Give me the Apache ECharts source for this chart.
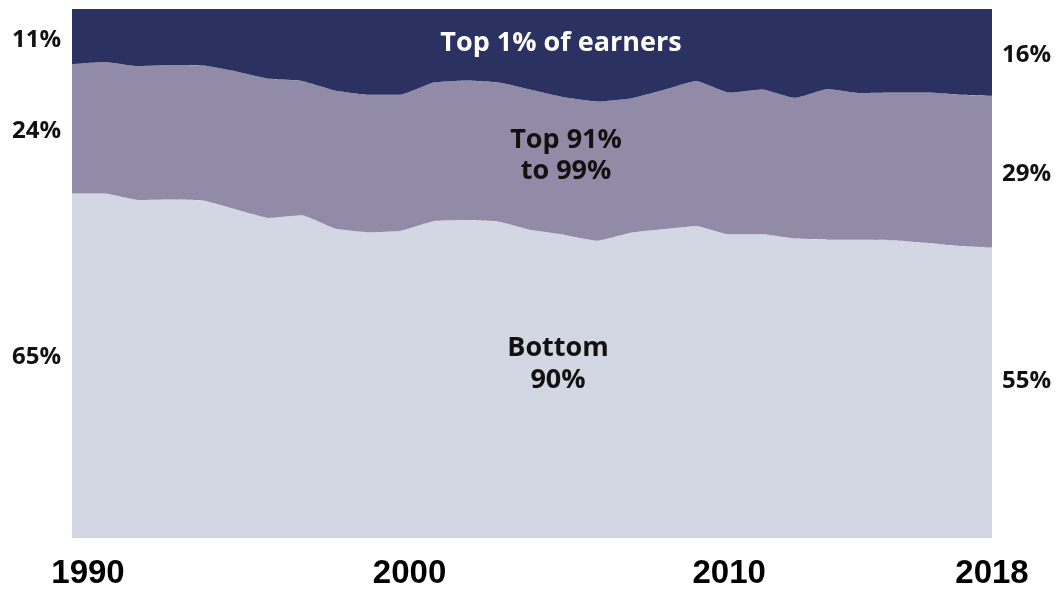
<!DOCTYPE html>
<html>
<head>
<meta charset="utf-8">
<script src="https://cdn.jsdelivr.net/npm/echarts@6/dist/echarts.min.js"></script>
<style>
html,body{margin:0;padding:0;background:#fff;}
#chart{width:1062px;height:590px;}
</style>
</head>
<body>
<div id="chart"></div>
<script>
// Years (category axis)
const years = ["1990","1991","1992","1993","1994","1995","1996","1997","1998","1999","2000","2001","2002","2003","2004","2005","2006","2007","2008","2009","2010","2011","2012","2013","2014","2015","2016","2017","2018"];
// Share of earnings (%)
const bottom90 = [65.1,65.1,63.9,64.0,63.8,62.1,60.5,61.0,58.5,57.8,58.1,59.9,60.1,59.8,58.2,57.3,56.2,57.7,58.4,59.0,57.4,57.4,56.6,56.4,56.4,56.3,55.8,55.2,54.9];
const top1 = [10.4,10.0,10.8,10.6,10.7,11.8,13.2,13.6,15.4,16.2,16.2,13.9,13.5,13.9,15.3,16.7,17.5,16.9,15.3,13.6,15.8,15.2,16.8,15.1,15.9,15.8,15.8,16.2,16.4];
const top91to99 = bottom90.map((b, i) => +(100 - b - top1[i]).toFixed(1));
const shownYears = ["1990","2000","2010","2018"];
const leftLabels = ["11%","24%","65%"];
const rightLabels = ["16%","29%","55%"];
const seriesNames = ["Bottom\n90%","Top 91%\nto 99%","Top 1% of earners"];

const chart = echarts.init(document.getElementById('chart'), null, {renderer:'canvas'});
const FONT = '"Open Sans", "Noto Sans", sans-serif';
const AXFONT = '"Liberation Sans", Arial, sans-serif';

function areaSeries(name, data, color) {
  return {
    name: name, type: 'line', stack: 'total', data: data,
    symbol: 'none', smooth: 0.12, z: 1,
    lineStyle: {width: 0},
    areaStyle: {color: color, opacity: 1},
    emphasis: {disabled: true}
  };
}

function sideText(x, y, text) {
  return {
    type: 'text', x: x, y: y, z: 100,
    style: {text: text, fill: '#111', font: 'bold 24px ' + FONT, align: 'left', verticalAlign: 'middle'}
  };
}

chart.setOption({
  animation: false,
  backgroundColor: '#fff',
  grid: {left: 72, right: 70, top: 9, bottom: 50, containLabel: false},
  xAxis: {
    type: 'category', data: years, boundaryGap: false,
    axisLine: {show: false}, axisTick: {show: false}, splitLine: {show: false},
    axisLabel: {
      interval: (i, v) => shownYears.includes(v),
      margin: 19,
      color: '#000',
      fontFamily: AXFONT, fontWeight: 'bold', fontSize: 33,
      formatter: (v) => v === '1990' ? '{a|' + v + '}' : (v === '2000' ? '{b|' + v + '}' : (v === '2010' ? '{c|' + v + '}' : v)),
      rich: {
        a: {padding: [0,0,0,32], color:'#000', fontFamily: AXFONT, fontWeight:'bold', fontSize:33},
        b: {padding: [0,0,0,18], color:'#000', fontFamily: AXFONT, fontWeight:'bold', fontSize:33},
        c: {padding: [0,0,8,0], color:'#000', fontFamily: AXFONT, fontWeight:'bold', fontSize:33}
      }
    }
  },
  yAxis: {type: 'value', min: 0, max: 100, show: false},
  series: [
    areaSeries(seriesNames[0], bottom90, '#d3d6e3'),
    areaSeries(seriesNames[1], top91to99, '#918ba8'),
    areaSeries(seriesNames[2], top1, '#2b3161')
  ],
  graphic: {
    elements: [
      sideText(12, 40, leftLabels[0]),
      sideText(12, 131, leftLabels[1]),
      sideText(12, 357, leftLabels[2]),
      sideText(1002, 55, rightLabels[0]),
      sideText(1002, 174, rightLabels[1]),
      sideText(1002, 381, rightLabels[2]),
      {type:'text', x: 561, y: 43, z: 100, style:{text: seriesNames[2], fill:'#fff', font:'bold 27px ' + FONT, align:'center', verticalAlign:'middle'}},
      {type:'text', x: 566, y: 156, z: 100, style:{text: seriesNames[1], fill:'#111', font:'bold 27px ' + FONT, align:'center', verticalAlign:'middle', lineHeight: 31}},
      {type:'text', x: 558, y: 364, z: 100, style:{text: seriesNames[0], fill:'#111', font:'bold 27px ' + FONT, align:'center', verticalAlign:'middle', lineHeight: 32}}
    ]
  }
});
</script>
</body>
</html>
